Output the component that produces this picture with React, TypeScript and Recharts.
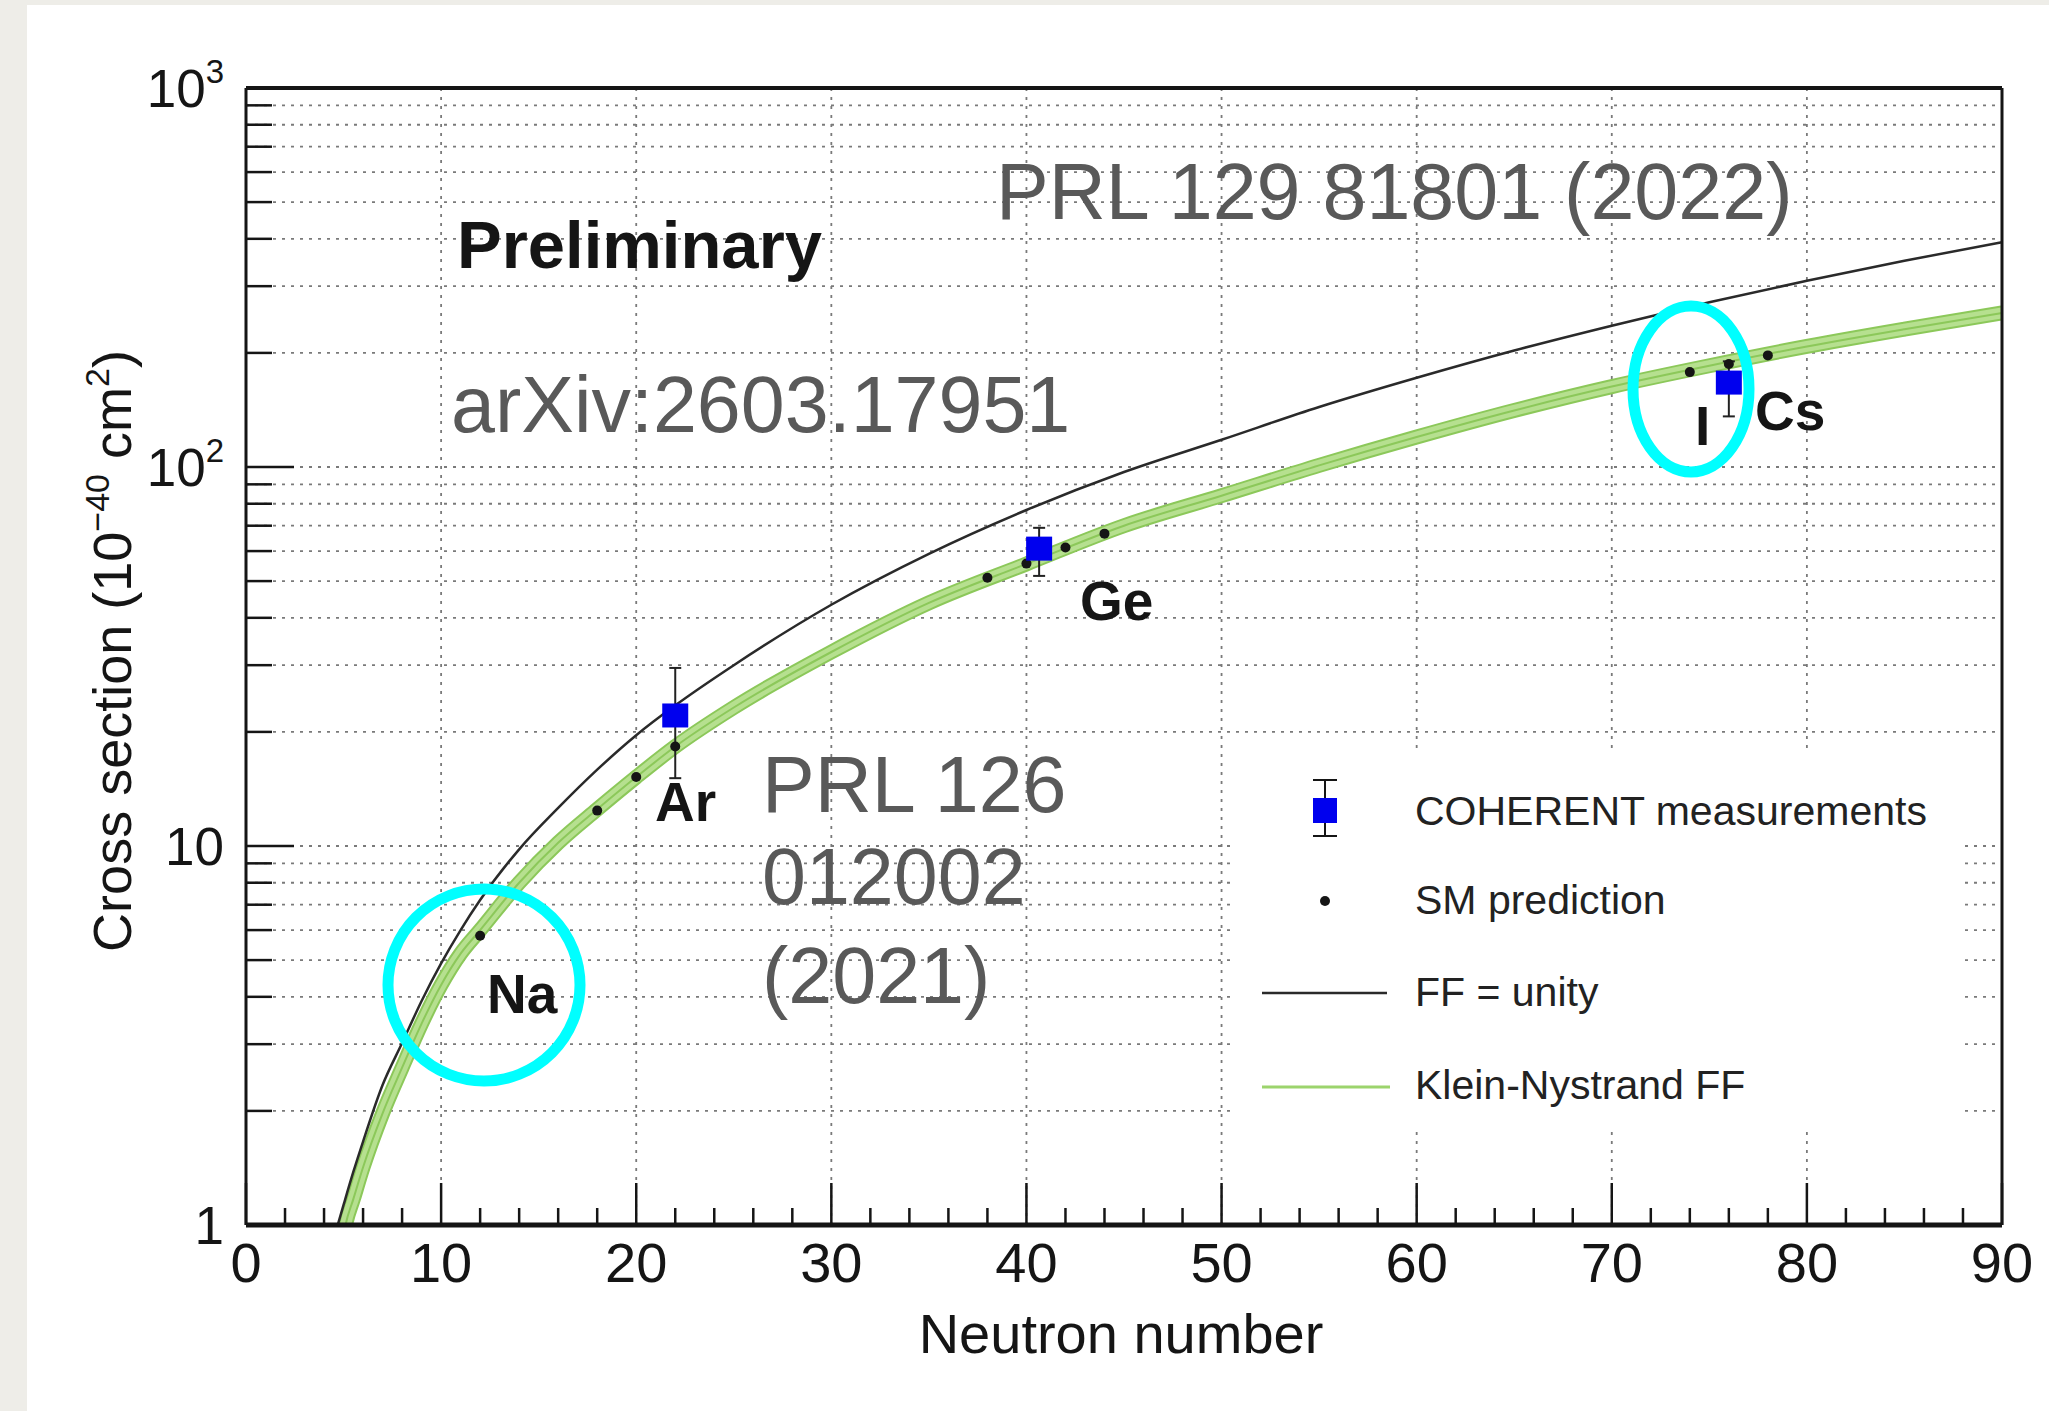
import React from 'react';
import {
  ComposedChart, Line, Scatter, XAxis, YAxis, CartesianGrid, ErrorBar, ReferenceLine,
} from 'recharts';

const W = 2049;
const H = 1411;
const FONT = '"Liberation Sans", Arial, Helvetica, sans-serif';
const INK = '#151515';
const GRAY_TXT = '#595959';
const CYAN = '#00ffff';
const BLUE = '#0000ee';
const GREEN_EDGE = '#8cc85a';
const GREEN_FILL = '#b6e08f';
const PAGE_GRAY = '#eeede8';

// x axis (neutron number)
const xMajor = [0, 10, 20, 30, 40, 50, 60, 70, 80, 90];
const xMinor = [2, 4, 6, 8, 12, 14, 16, 18, 22, 24, 26, 28, 32, 34, 36, 38, 42, 44, 46, 48,
  52, 54, 56, 58, 62, 64, 66, 68, 72, 74, 76, 78, 82, 84, 86, 88];

// y axis (cross section, log)
const yTicks = [1, 2, 3, 4, 5, 6, 7, 8, 9, 10, 20, 30, 40, 50, 60, 70, 80, 90,
  100, 200, 300, 400, 500, 600, 700, 800, 900, 1000];
const yMajor = [1, 10, 100, 1000];
const yBase = ['1', '10', '10', '10'];
const yExp = ['', '', '2', '3'];

// FF = unity curve
const ffN = [4.7, 5, 5.5, 6, 7, 8, 9, 10, 11, 12, 14, 16, 18, 20, 22, 25, 30, 35, 40, 45,
  50, 55, 60, 65, 70, 75, 80, 85, 90];
const ffVal = [1.0, 1.13, 1.38, 1.66, 2.34, 3.02, 3.9, 4.9, 6.0, 7.2, 9.8, 12.6, 15.9, 19.6, 23.5, 30, 43.3, 59, 77, 97,
  118, 144, 172, 203, 236, 272, 310, 350, 392];

// Klein-Nystrand FF curve
const knN = [5.0, 5.1, 5.5, 6, 7, 8, 9, 10, 11, 12, 14, 16, 18, 20, 22, 25, 30, 35, 40, 45,
  50, 55, 60, 65, 70, 75, 80, 85, 90];
const knVal = [0.94, 1.0, 1.17, 1.42, 1.97, 2.6, 3.4, 4.3, 5.2, 6.0, 8.0, 10.2, 12.5, 15.2, 18.3, 23.2, 32.5, 43.8, 55.5, 70,
  84, 101, 120, 141, 163, 185, 208, 231, 255];

// SM prediction points
const smN = [12, 18, 20, 22, 38, 40, 42, 44, 74, 76, 78];
const smVal = [5.8, 12.4, 15.2, 18.3, 51, 55.6, 61.3, 66.7, 178, 187, 197];

// COHERENT measurements
const cohN = [22, 40.65, 76];
const cohVal = [22.1, 60.9, 167];
const cohErrLo = [7, 9.3, 31];
const cohErrHi = [7.4, 8.2, 23];

const toRows = (xs: number[], ys: number[]) => xs.map((n, i) => ({ n, v: ys[i] }));
const ffData = toRows(ffN, ffVal);
const knData = toRows(knN, knVal);
const smData = toRows(smN, smVal);
const cohData = cohN.map((n, i) => ({ n, v: cohVal[i], err: [cohErrLo[i], cohErrHi[i]] }));

const Y_MARGIN = 22;

const YTick = (props: any) => {
  const { x, y, payload } = props;
  const axisX = x + Y_MARGIN;
  const k = yMajor.indexOf(payload.value);
  const len = k >= 0 ? 48 : 26;
  return (
    <g>
      <line x1={axisX} x2={axisX + len} y1={y} y2={y} stroke={INK} strokeWidth={2.5} />
      {k >= 0 && (
        <text x={x} y={y + 19} textAnchor="end" fontSize={53} fill={INK} fontFamily={FONT}>
          <tspan>{yBase[k]}</tspan>
          {yExp[k] && <tspan dy={-24} fontSize={33}>{yExp[k]}</tspan>}
        </text>
      )}
    </g>
  );
};

const XTick = (props: any) => {
  const { x, y, payload } = props;
  return (
    <g>
      <line x1={x} x2={x} y1={y} y2={y - 42} stroke={INK} strokeWidth={2.5} />
      <text x={x} y={y + 57} textAnchor="middle" fontSize={56} fill={INK} fontFamily={FONT}>
        {payload.value}
      </text>
    </g>
  );
};

const XMinorTick = (props: any) => {
  const { x, y } = props;
  return <line x1={x} x2={x} y1={y} y2={y - 18} stroke={INK} strokeWidth={2.5} />;
};

const Square = (p: any) => (
  <rect x={p.cx - 13} y={p.cy - 12} width={26} height={24} fill={BLUE} />
);
const Dot = (p: any) => <circle cx={p.cx} cy={p.cy} r={5} fill={INK} />;

const Overlay = () => (
  <svg width={W} height={H} fontFamily={FONT}
    style={{ position: 'absolute', left: 0, top: 0, pointerEvents: 'none' }}>
    {/* legend */}
    <rect x={1233} y={752} width={732} height={376} fill="#fff" />
    <line x1={1325} x2={1325} y1={780} y2={836} stroke={INK} strokeWidth={2} />
    <line x1={1313} x2={1337} y1={780} y2={780} stroke={INK} strokeWidth={2} />
    <line x1={1313} x2={1337} y1={836} y2={836} stroke={INK} strokeWidth={2} />
    <rect x={1313} y={798} width={24} height={25} fill={BLUE} />
    <text x={1415} y={825} fontSize={41} fill="#222">COHERENT measurements</text>
    <circle cx={1325} cy={901} r={5} fill={INK} />
    <text x={1415} y={914} fontSize={41} fill="#222">SM prediction</text>
    <line x1={1262} x2={1387} y1={993} y2={993} stroke="#2a2a2a" strokeWidth={2.5} />
    <text x={1415} y={1006} fontSize={41} fill="#222">FF = unity</text>
    <line x1={1262} x2={1390} y1={1087} y2={1087} stroke="#9cd46c" strokeWidth={3} />
    <text x={1415} y={1099} fontSize={41} fill="#222">Klein-Nystrand FF</text>

    {/* annotations */}
    <text x={457} y={268} fontSize={67} fontWeight="bold" fill={INK}>Preliminary</text>
    <text x={996} y={219} fontSize={79} fill={GRAY_TXT}>PRL 129 81801 (2022)</text>
    <text x={451} y={432} fontSize={79} fill={GRAY_TXT}>arXiv:2603.17951</text>
    <text x={762} y={812} fontSize={79} fill={GRAY_TXT}>PRL 126</text>
    <text x={762} y={904} fontSize={79} fill={GRAY_TXT}>012002</text>
    <text x={762} y={1003} fontSize={79} fill={GRAY_TXT}>(2021)</text>

    <text x={487} y={1013} fontSize={55} fontWeight="bold" fill={INK}>Na</text>
    <text x={655} y={821} fontSize={55} fontWeight="bold" fill={INK}>Ar</text>
    <text x={1080} y={620} fontSize={55} fontWeight="bold" fill={INK}>Ge</text>
    <text x={1695} y={445} fontSize={55} fontWeight="bold" fill={INK}>I</text>
    <text x={1755} y={430} fontSize={55} fontWeight="bold" fill={INK}>Cs</text>

    <circle cx={484} cy={985} r={96} fill="none" stroke={CYAN} strokeWidth={11} />
    <ellipse cx={1691} cy={389} rx={58} ry={83} fill="none" stroke={CYAN} strokeWidth={11} />

    {/* axis titles */}
    <text x={1121} y={1353} textAnchor="middle" fontSize={56} fill={INK}>Neutron number</text>
    <text transform="translate(131, 651) rotate(-90)" textAnchor="middle" fontSize={54} fill={INK}>
      Cross section (10
      <tspan dy={-22} fontSize={34}>−40</tspan>
      <tspan dy={22}> cm</tspan>
      <tspan dy={-22} fontSize={34}>2</tspan>
      <tspan dy={22}>)</tspan>
    </text>
  </svg>
);

export default function App() {
  return (
    <div style={{ position: 'absolute', left: 0, top: 0, width: W, height: H, background: '#fff', overflow: 'hidden' }}>
      <div style={{ position: 'absolute', left: 0, top: 0, width: 27, height: H, background: PAGE_GRAY }} />
      <div style={{ position: 'absolute', left: 0, top: 0, width: W, height: 5, background: PAGE_GRAY }} />
      <div style={{ position: 'absolute', left: 0, top: 0 }}>
        <ComposedChart width={W} height={H} margin={{ top: 88, right: 47, bottom: 184, left: 0 }}>
          <CartesianGrid stroke="#7a7a7a" strokeWidth={1.8} strokeDasharray="3 6" verticalValues={xMajor} />
          <XAxis type="number" dataKey="n" domain={[0, 90]} ticks={xMajor} interval={0}
            height={1} axisLine={{ stroke: INK, strokeWidth: 5 }} tickLine={false} tickSize={0} tickMargin={0}
            tick={(p: any) => <XTick {...p} />} allowDataOverflow />
          <XAxis xAxisId="minor" type="number" dataKey="n" domain={[0, 90]} ticks={xMinor} interval={0}
            height={1} axisLine={false} tickLine={false} tickSize={0} tickMargin={0}
            tick={(p: any) => <XMinorTick {...p} />} allowDataOverflow />
          <YAxis type="number" scale="log" domain={[1, 1000]} ticks={yTicks} interval={0} width={246}
            axisLine={{ stroke: INK, strokeWidth: 3 }} tickLine={false} tickSize={0} tickMargin={Y_MARGIN}
            tick={(p: any) => <YTick {...p} />} allowDataOverflow />

          <Line data={knData} dataKey="v" type="monotone" stroke={GREEN_EDGE} strokeWidth={15}
            dot={false} activeDot={false} isAnimationActive={false} />
          <Line data={knData} dataKey="v" type="monotone" stroke={GREEN_FILL} strokeWidth={11}
            dot={false} activeDot={false} isAnimationActive={false} />
          <Line data={knData} dataKey="v" type="monotone" stroke={GREEN_EDGE} strokeWidth={2}
            dot={false} activeDot={false} isAnimationActive={false} />
          <Line data={ffData} dataKey="v" type="monotone" stroke="#2a2a2a" strokeWidth={2.5}
            dot={false} activeDot={false} isAnimationActive={false} />
          <Scatter data={smData} dataKey="v" shape={Dot} isAnimationActive={false} />
          <Scatter data={cohData} dataKey="v" shape={Square} isAnimationActive={false}>
            <ErrorBar dataKey="err" direction="y" width={6} stroke="#222" strokeWidth={2} />
          </Scatter>

          <ReferenceLine y={1000} stroke={INK} strokeWidth={4} />
          <ReferenceLine x={90} stroke={INK} strokeWidth={3} />
        </ComposedChart>
      </div>
      <Overlay />
    </div>
  );
}
